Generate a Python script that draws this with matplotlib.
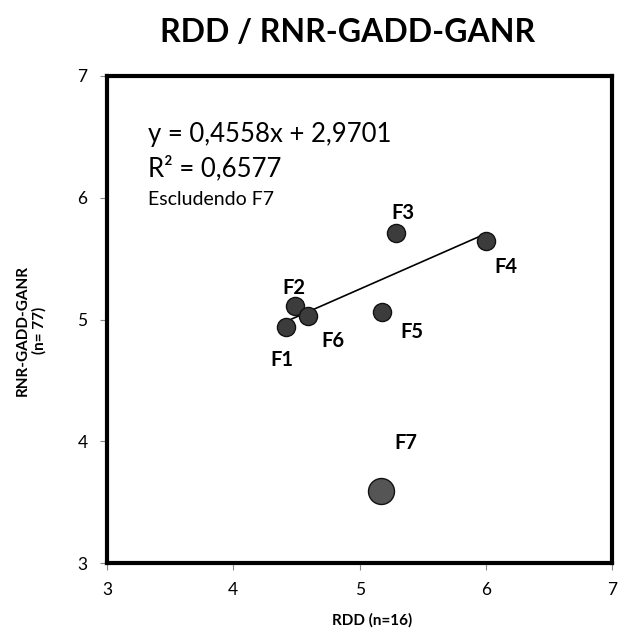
import matplotlib.pyplot as plt

plt.rcParams['font.family'] = ['Lato', 'DejaVu Sans']

# RDD vs RNR-GADD-GANR scores per group
labels = ["F1", "F2", "F3", "F4", "F5", "F6", "F7"]
rdd = [4.42, 4.49, 5.29, 6.00, 5.18, 4.59, 5.17]
rnr = [4.94, 5.11, 5.71, 5.645, 5.06, 5.03, 3.59]
excluded = "F7"

# trendline fitted without F7
slope = 0.4558
intercept = 2.9701
r2 = 0.6577

label_offsets = {"F1": (-3, -24), "F2": (-1, 13), "F3": (5, 14.5), "F4": (14.5, -19),
                 "F5": (21, -14.5), "F6": (18, -18), "F7": (18, 35)}

fig = plt.figure(figsize=(6.24, 6.3), dpi=100)
ax = fig.add_axes([0.1715, 0.1063, 0.8095, 0.7731])

keep = [i for i, l in enumerate(labels) if l != excluded]
drop = [i for i, l in enumerate(labels) if l == excluded]

ax.scatter([rdd[i] for i in keep], [rnr[i] for i in keep], s=170,
           color="#3c3c3c", edgecolor="#111111", linewidth=1, zorder=3)
ax.scatter([rdd[i] for i in drop], [rnr[i] for i in drop], s=350,
           color="#555555", edgecolor="#111111", linewidth=1, zorder=3)

xs = [min(rdd[i] for i in keep), max(rdd[i] for i in keep)]
ax.plot(xs, [slope * x + intercept for x in xs], color="black", linewidth=1.2, zorder=2)

for i, l in enumerate(labels):
    ax.annotate(l, (rdd[i], rnr[i]), xytext=label_offsets[l], textcoords="offset points",
                ha="center", va="center", fontsize=14.5, fontweight="bold")

eq = "y = {:.4f}x + {:.4f}".format(slope, intercept).replace(".", ",")
ax.text(0.081, 0.879, eq, transform=ax.transAxes, fontsize=18.5, va="center")
ax.text(0.081, 0.811, "R² = {:.4f}".format(r2).replace(".", ","), transform=ax.transAxes,
        fontsize=18.5, va="center")
ax.text(0.081, 0.747, "Escludendo " + excluded, transform=ax.transAxes, fontsize=14,
        va="center")

ax.set_xlim(3, 7)
ax.set_ylim(3, 7)
ax.set_xticks([3, 4, 5, 6, 7])
ax.set_yticks([3, 4, 5, 6, 7])
ax.tick_params(direction="out", length=5, color="#888888", labelsize=12.5, pad=9)
for s in ax.spines.values():
    s.set_linewidth(3)
    s.set_color("black")

fig.text(0.596, 0.016, "RDD (n=16)", fontsize=11, fontweight="bold", ha="center", va="center")
fig.text(0.05, 0.475, "RNR-GADD-GANR\n(n= 77)", fontsize=11, fontweight="bold",
         rotation=90, ha="center", va="center", multialignment="center")
fig.text(0.557, 0.948, "RDD / RNR-GADD-GANR", fontsize=23, fontweight="bold",
         ha="center", va="center")

fig.savefig("out.png")
